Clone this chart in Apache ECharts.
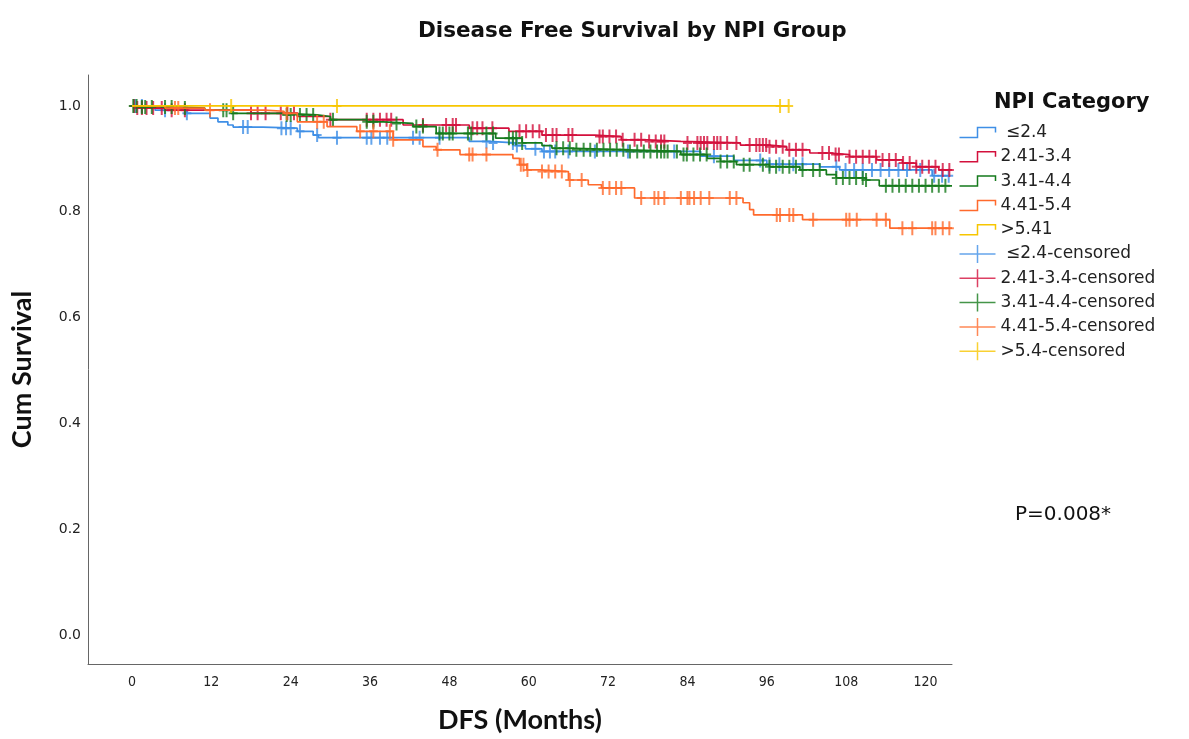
<!DOCTYPE html>
<html>
<head>
<meta charset="utf-8">
<script src="https://cdn.jsdelivr.net/npm/echarts@6/dist/echarts.min.js"></script>
<style>html,body{margin:0;padding:0;background:#fff}#chart{width:1189px;height:739px}</style>
</head>
<body>
<div id="chart"></div>
<script>
const groupNames = [' \u22642.4', '2.41-3.4', '3.41-4.4', '4.41-5.4', '>5.41'];
const censorNames = [' \u22642.4-censored', '2.41-3.4-censored', '3.41-4.4-censored', '4.41-5.4-censored', '>5.4-censored'];
const groupColors = ['#3f8fe6', '#d3103c', '#157a1c', '#ff6a2c', '#f7c600'];
const xTicks = [0, 12, 24, 36, 48, 60, 72, 84, 96, 108, 120];
const yTicks = [0, 0.2, 0.4, 0.6, 0.8, 1.0];

// group 1: <=2.4
const g1Time = [0, 3.5, 8.3, 11.8, 13, 14.5, 15.3, 19.8, 25, 27.4, 28.2, 51, 54, 58, 59.5, 62, 86, 91, 96, 104, 107, 121];
const g1Surv = [1.0, 0.992, 0.986, 0.977, 0.970, 0.964, 0.960, 0.958, 0.952, 0.945, 0.940, 0.933, 0.930, 0.925, 0.919, 0.914, 0.905, 0.897, 0.890, 0.885, 0.879, 0.868];
const g1End = 123.5;
const g1Censor = [0.5, 1.5, 5, 8.3, 16.8, 17.5, 22.6, 23.3, 24, 25.4, 28, 31, 35.5, 36.2, 37.5, 38.6, 42.5, 43.5, 46.5, 53.6, 54.6, 57.6, 58.2, 61, 62.3, 63.2, 64, 66, 70, 75, 82, 88, 95, 96.4, 97.9, 100, 101.4, 106.5, 107.9, 109.2, 110.5, 111.9, 113.2, 114.5, 115.9, 117.2, 119.2, 121.3, 122.5, 123.5];

// group 2: 2.41-3.4
const g2Time = [0, 0.7, 5, 18, 25, 30, 41, 51, 57, 62, 70, 74, 78, 83, 92, 96.4, 99, 102.5, 105.5, 108.5, 112.6, 116.5, 118.6, 122];
const g2Surv = [1.0, 0.996, 0.992, 0.986, 0.980, 0.974, 0.964, 0.958, 0.952, 0.945, 0.942, 0.936, 0.933, 0.930, 0.926, 0.923, 0.917, 0.911, 0.908, 0.904, 0.898, 0.892, 0.885, 0.879];
const g2End = 124;
const g2Censor = [0.3, 0.8, 1.5, 2.2, 3.2, 4.5, 6, 8, 18, 19, 20.2, 22.5, 23.5, 24.5, 30, 35.5, 36.5, 37.5, 38.5, 39.2, 44, 47.5, 48.5, 49, 51.5, 52.2, 53, 54.5, 58.6, 59.6, 60.6, 61.6, 62.6, 63.6, 64.2, 66, 66.6, 70.7, 71.2, 72.2, 73.2, 74.2, 76, 77, 78.2, 79.2, 80, 80.5, 84, 85.5, 86, 86.5, 87, 88, 88.5, 89, 90, 91.4, 93.4, 94.4, 94.9, 95.4, 95.9, 96.4, 97.4, 98.4, 99.4, 100.4, 101.4, 104.4, 105.4, 106.4, 106.9, 108.5, 109.5, 110.5, 111.5, 112.5, 113.5, 114.5, 115.5, 116.6, 117.6, 118.6, 119.5, 120.5, 121.5, 122.6, 123.6];

// group 3: 3.41-4.4
const g3Time = [0, 1, 7.7, 11, 15, 23, 28, 30, 35.5, 38, 42.5, 46, 55, 59, 62, 63.5, 67, 75, 83, 87, 89, 91.4, 96.4, 101, 105, 106.5, 111, 113];
const g3Surv = [1.0, 0.998, 0.996, 0.992, 0.986, 0.983, 0.980, 0.974, 0.970, 0.967, 0.961, 0.948, 0.939, 0.930, 0.925, 0.920, 0.917, 0.914, 0.908, 0.901, 0.895, 0.889, 0.885, 0.879, 0.870, 0.864, 0.860, 0.849];
const g3End = 124;
const g3Censor = [0.2, 0.7, 1.5, 2, 3, 5, 6, 8, 13.8, 14.3, 15.3, 23.4, 24, 25.4, 26.4, 27.4, 30.4, 35.5, 36.5, 40, 43, 44, 46.5, 47, 48, 48.5, 50.8, 51.3, 53.6, 54.6, 57, 57.6, 58.1, 59, 64.2, 65.2, 66.2, 67.2, 68.3, 69.3, 70.3, 71.3, 72.3, 73.3, 74.3, 75.3, 76.4, 77.4, 78.4, 79.4, 80, 80.5, 81, 82.4, 83.4, 83.9, 84.9, 85.9, 86.9, 89, 90, 91, 92.5, 93.4, 95.4, 96.4, 97.4, 98.4, 99.4, 100.4, 101.4, 103, 104, 106.5, 107.5, 108.5, 109.5, 110.5, 111, 114, 115, 116, 117, 118, 119, 120, 121, 122, 123];

// group 4: 4.41-5.4
const g4Time = [0, 5, 11, 20, 23, 25, 29.5, 34, 39.5, 44, 46, 49.6, 57.6, 58.6, 59.7, 61.7, 66, 69, 71, 76, 92.4, 93.4, 94, 101.4, 114.6];
const g4Surv = [1.0, 0.996, 0.992, 0.990, 0.986, 0.970, 0.961, 0.952, 0.936, 0.923, 0.917, 0.908, 0.901, 0.889, 0.879, 0.876, 0.860, 0.851, 0.845, 0.826, 0.817, 0.804, 0.794, 0.785, 0.769];
const g4End = 124;
const g4Censor = [6.5, 7, 11.8, 23.4, 28, 29, 34.5, 36.5, 39, 39.5, 46.2, 51, 51.5, 53.6, 58.8, 59.2, 59.8, 62, 63, 64, 65, 66.2, 68, 71.2, 72.2, 73.2, 74, 77, 79, 79.6, 80.5, 83, 84, 84.3, 85, 86, 87.3, 90.4, 91.4, 97.5, 98, 99.4, 100, 103, 108, 108.5, 109.6, 112.6, 114, 116.5, 118, 121, 121.5, 122.6, 123.6];

// group 5: >5.41
const g5Time = [0];
const g5Surv = [1.0];
const g5End = 99.3;
const g5Censor = [15, 31, 98, 99.3];

const groups = [
  [g1Time, g1Surv, g1End, g1Censor],
  [g2Time, g2Surv, g2End, g2Censor],
  [g3Time, g3Surv, g3End, g3Censor],
  [g4Time, g4Surv, g4End, g4Censor],
  [g5Time, g5Surv, g5End, g5Censor]
];

function stepAt(times, survs, t) {
  let v = survs[0];
  for (let i = 0; i < times.length; i++) if (times[i] <= t) v = survs[i];
  return v;
}

const censorSymbol = 'path://M0,6 L9,6 L9,8 L0,8 Z M3.5,0 L5.5,0 L5.5,14 L3.5,14 Z';
const stepIcon = 'path://M0,0 M0,15 L18,15 L18,5 L36,5 L36,10 M36,20';
const crossIcon = 'path://M0,0 M0,10 L36,10 M18,1 L18,19 M36,20';

const lineSeries = groups.map((g, i) => {
  const [times, survs, end] = g;
  const data = times.map((t, k) => [t, survs[k]]);
  data.push([end, survs[survs.length - 1]]);
  return {
    name: groupNames[i], type: 'line', step: 'end', data: data,
    showSymbol: false, symbol: 'none',
    lineStyle: { color: groupColors[i], width: 1.7 },
    itemStyle: { color: groupColors[i] },
    z: 2 + i
  };
});
const censorSeries = groups.map((g, i) => {
  const [times, survs, end, cens] = g;
  return {
    name: censorNames[i], type: 'scatter',
    data: cens.map(t => [t, stepAt(times, survs, t)]),
    symbol: censorSymbol, symbolSize: [9, 14],
    itemStyle: { color: groupColors[i] },
    z: 2 + i
  };
});

const legendData = groupNames.map((n, i) => ({
  name: n, icon: stepIcon,
  itemStyle: { color: 'none', borderColor: groupColors[i], borderWidth: 1.5 }
})).concat(censorNames.map((n, i) => ({
  name: n, icon: crossIcon,
  itemStyle: { color: 'none', borderColor: groupColors[i], borderWidth: 1.5 }
})));

const chart = echarts.init(document.getElementById('chart'), null, { renderer: 'canvas' });
chart.setOption({
  animation: false,
  backgroundColor: '#ffffff',
  title: [
    { text: 'Disease Free Survival by NPI Group', left: 413, top: 15,
      textStyle: { fontFamily: 'DejaVu Sans', fontWeight: 'bold', fontSize: 21.5, color: '#111' } },
    { text: 'NPI Category', left: 989, top: 87,
      textStyle: { fontFamily: 'DejaVu Sans', fontWeight: 'bold', fontSize: 21, color: '#111' } }
  ],
  legend: {
    orient: 'vertical', left: 957, top: 120, padding: 0,
    itemWidth: 36, itemHeight: 20, itemGap: -0.7,
    symbolKeepAspect: false, selectedMode: false,
    textStyle: { fontFamily: 'DejaVu Sans', fontSize: 17, color: '#222' },
    data: legendData
  },
  graphic: [
    { type: 'text', left: 1015, top: 505,
      style: { text: 'P=0.008*', font: '20px "DejaVu Sans"', fill: '#111' } }
  ],
  grid: { left: 88, right: 237, top: 75, bottom: 74, containLabel: false },
  xAxis: {
    type: 'value', min: -6.65, max: 124,
    name: 'DFS (Months)', nameLocation: 'middle', nameGap: 43,
    nameTextStyle: { fontFamily: 'Lato', fontWeight: 'bold', fontSize: 27, color: '#111' },
    axisLine: { show: true, onZero: false, lineStyle: { color: '#666', width: 1 } },
    axisTick: { show: false },
    splitLine: { show: false },
    axisLabel: { customValues: xTicks, margin: 11, fontFamily: '"DejaVu Sans Condensed", "Roboto Condensed", "DejaVu Sans", sans-serif', fontSize: 14, color: '#222' }
  },
  yAxis: {
    type: 'value', min: -0.055, max: 1.0585,
    name: 'Cum Survival', nameLocation: 'middle', nameGap: 52, nameRotate: 90,
    nameTextStyle: { fontFamily: 'Lato', fontWeight: 'bold', fontSize: 27, color: '#111' },
    axisLine: { show: true, onZero: false, lineStyle: { color: '#666', width: 1 } },
    axisTick: { show: false },
    splitLine: { show: false },
    axisLabel: { customValues: yTicks, margin: 7, fontFamily: 'DejaVu Sans', fontSize: 14, color: '#222',
      formatter: v => v.toFixed(1) }
  },
  series: lineSeries.concat(censorSeries)
});
</script>
</body>
</html>
